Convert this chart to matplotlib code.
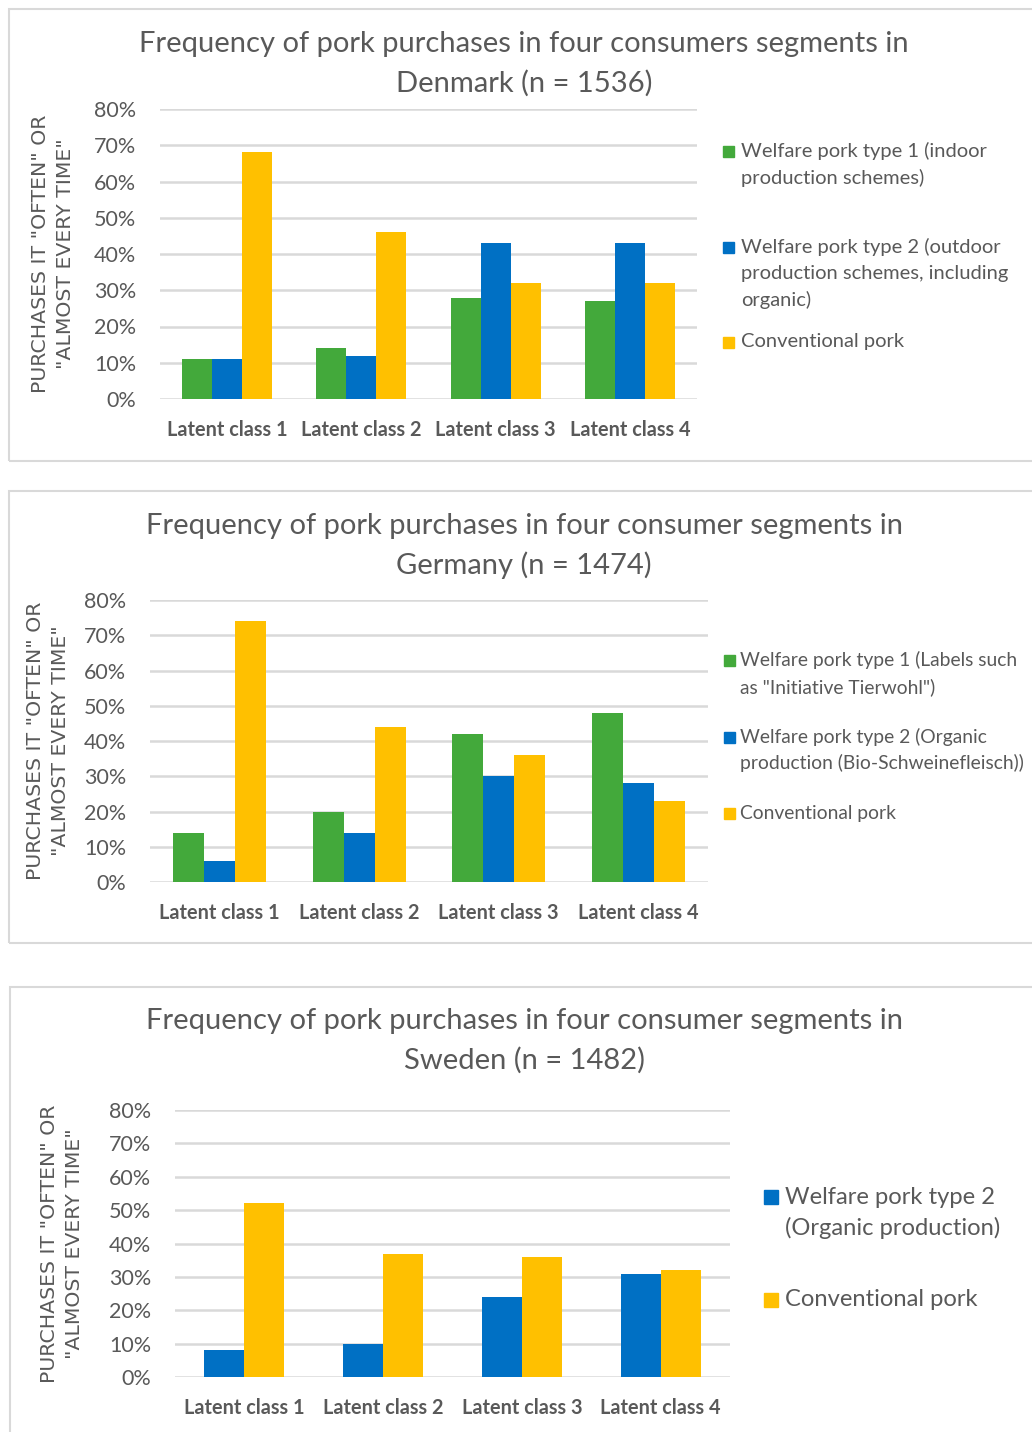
import matplotlib
matplotlib.use("Agg")
import matplotlib.pyplot as plt
from matplotlib.patches import Rectangle
import numpy as np

W, H = 1032, 1432
categories = ["Latent class 1", "Latent class 2", "Latent class 3", "Latent class 4"]
yticks = [0, 10, 20, 30, 40, 50, 60, 70, 80]

dk_titles = ["Frequency of pork purchases in four consumers segments in", "Denmark (n = 1536)"]
dk_series = [["Welfare pork type 1 (indoor", "production schemes)"],
             ["Welfare pork type 2 (outdoor", "production schemes, including", "organic)"],
             ["Conventional pork"]]
dk_green = [11, 14, 28, 27]
dk_blue = [11, 12, 43, 43]
dk_orange = [68, 46, 32, 32]

de_titles = ["Frequency of pork purchases in four consumer segments in", "Germany (n = 1474)"]
de_series = [["Welfare pork type 1 (Labels such", "as \"Initiative Tierwohl\")"],
             ["Welfare pork type 2 (Organic", "production (Bio-Schweinefleisch))"],
             ["Conventional pork"]]
de_green = [14, 20, 42, 48]
de_blue = [6, 14, 30, 28]
de_orange = [74, 44, 36, 23]

se_titles = ["Frequency of pork purchases in four consumer segments in", "Sweden (n = 1482)"]
se_series = [["Welfare pork type 2", "(Organic production)"], ["Conventional pork"]]
se_blue = [8, 10, 24, 31]
se_orange = [52, 37, 36, 32]

ylabel = "PURCHASES IT \"OFTEN\" OR\n\"ALMOST EVERY TIME\""

GREEN = "#43A93B"
BLUE = "#0070C4"
ORANGE = "#FFC000"
GRID = "#D9D9D9"
TXT = "#595959"
FONT = "Lato"

fig = plt.figure(figsize=(W / 100, H / 100), dpi=100)

def fx(x):
    return x / W

def fy(y):
    return 1 - y / H

def panel(box, plot, titles, title_y, title_x, data, colors, labels, bar_w,
          ylab_x, leg_sq_x, leg_txt_x, leg_ys, leg_fs, sq, tick_fs, xlab_fs, title_fs):
    x0, y0, x1, y1 = box
    fig.patches.append(Rectangle((fx(x0), fy(y1)), fx(x1 - x0), (y1 - y0) / H,
                                 transform=fig.transFigure, fill=False,
                                 edgecolor="#D9D9D9", lw=1.5))
    l, t, r, b = plot
    ax = fig.add_axes([fx(l), fy(b), fx(r - l), (b - t) / H])
    n = len(data)
    x = np.arange(len(categories))
    for i, (vals, c) in enumerate(zip(data, colors)):
        ax.bar(x + (i - (n - 1) / 2) * bar_w, np.array(vals) / 100, width=bar_w,
               color=c, zorder=3)
    ax.set_xlim(-0.5, len(categories) - 0.5)
    ax.set_ylim(0, 0.8)
    ax.set_yticks([v / 100 for v in yticks])
    ax.set_yticklabels([f"{v}%" for v in yticks], fontsize=tick_fs, color=TXT, family=FONT)
    ax.set_xticks(x)
    ax.set_xticklabels(categories, fontsize=xlab_fs, color=TXT, family=FONT, fontweight="bold")
    ax.tick_params(axis="y", length=0, pad=17)
    ax.tick_params(axis="x", length=0, pad=15)
    ax.grid(axis="y", color=GRID, lw=1.8, zorder=0)
    for s in ax.spines.values():
        s.set_visible(False)
    ax.set_axisbelow(True)
    for ty, tt in zip(title_y, titles):
        fig.text(fx(title_x), fy(ty), tt, ha="center", va="center", fontsize=title_fs,
                 color=TXT, family=FONT)
    fig.text(fx(ylab_x), fy((t + b) / 2), ylabel, rotation=90, ha="center", va="center",
             fontsize=14.7, color=TXT, family="DejaVu Sans", linespacing=1.4,
             multialignment="center")
    for lines, c, lys in zip(labels, colors, leg_ys):
        fig.patches.append(Rectangle((fx(leg_sq_x), fy(lys[0] + sq / 2)), fx(sq), sq / H,
                                     transform=fig.transFigure, color=c))
        for line, ly in zip(lines, lys):
            fig.text(fx(leg_txt_x), fy(ly), line, ha="left", va="center", fontsize=leg_fs,
                     color=TXT, family=FONT)

panel((9, 9, 1040, 461), (160, 109, 697, 399), dk_titles, (44, 83), 524,
      [dk_green, dk_blue, dk_orange], [GREEN, BLUE, ORANGE], dk_series, 0.224,
      53, 723, 741, [[151, 178], [247, 273, 300], [342]], 14.5, 11, 15.5, 14.3, 21)

panel((9, 491, 1040, 943), (150, 600, 708, 882), de_titles, (526, 565), 524,
      [de_green, de_blue, de_orange], [GREEN, BLUE, ORANGE], de_series, 0.222,
      48, 724, 740, [[660, 687], [737, 763], [813]], 13.9, 11, 15.5, 14.3, 21)

panel((10, 987, 1040, 1445), (175, 1110, 730, 1377), se_titles, (1021, 1060), 525,
      [se_blue, se_orange], [BLUE, ORANGE], se_series, 0.288,
      62, 764, 785, [[1197, 1228], [1300]], 17.1, 14, 15.5, 14.3, 21)

fig.savefig("out.png", dpi=100, facecolor="white")
